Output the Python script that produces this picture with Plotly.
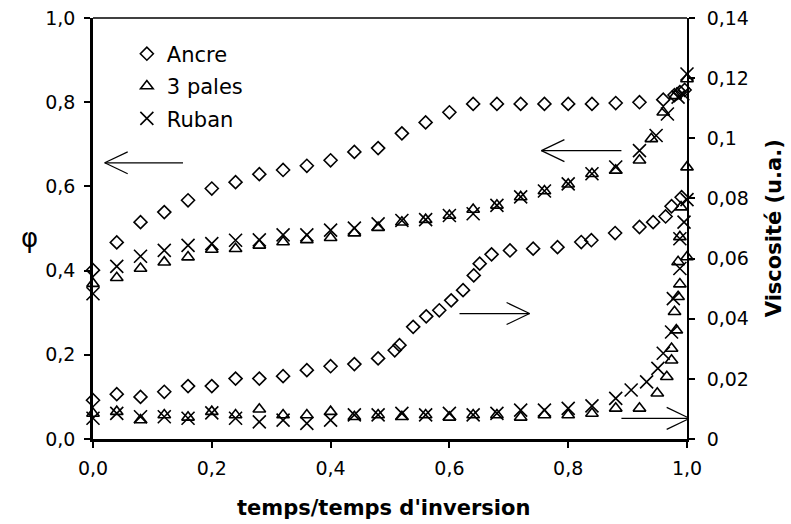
import plotly.graph_objects as go

# ---------------- data ----------------
x_tick_vals = [0, 0.2, 0.4, 0.6, 0.8, 1.0]
x_tick_text = ["0,0", "0,2", "0,4", "0,6", "0,8", "1,0"]
y_tick_vals = [0, 0.2, 0.4, 0.6, 0.8, 1.0]
y_tick_text = ["0,0", "0,2", "0,4", "0,6", "0,8", "1,0"]
y2_tick_vals = [0, 0.02, 0.04, 0.06, 0.08, 0.10, 0.12, 0.14]
y2_tick_text = ["0", "0,02", "0,04", "0,06", "0,08", "0,1", "0,12", "0,14"]

series_names = ["Ancre", "3 pales", "Ruban"]

# phi (left axis)
ancre_phi_x = [0, 0.04, 0.08, 0.12, 0.16, 0.20, 0.24, 0.28, 0.32, 0.36, 0.40, 0.44, 0.48,
               0.52, 0.56, 0.60, 0.64, 0.68, 0.72, 0.76, 0.80, 0.84, 0.88, 0.92, 0.96,
               0.979, 0.988, 0.996]
ancre_phi_y = [0.401, 0.467, 0.515, 0.539, 0.567, 0.595, 0.610, 0.629, 0.639, 0.649, 0.662, 0.682, 0.691,
               0.726, 0.752, 0.776, 0.796, 0.796, 0.796, 0.796, 0.796, 0.796, 0.798, 0.800, 0.806,
               0.817, 0.824, 0.829]

pales_phi_x = [0, 0.04, 0.08, 0.12, 0.16, 0.20, 0.24, 0.28, 0.32, 0.36, 0.40, 0.44, 0.48,
               0.52, 0.56, 0.60, 0.64, 0.68, 0.72, 0.76, 0.80, 0.84, 0.88, 0.92, 0.94,
               0.96, 0.98, 1.0]
pales_phi_y = [0.369, 0.383, 0.405, 0.420, 0.432, 0.450, 0.452, 0.460, 0.468, 0.473, 0.478, 0.489, 0.502,
               0.515, 0.521, 0.531, 0.545, 0.555, 0.575, 0.589, 0.605, 0.630, 0.638, 0.662, 0.713,
               0.776, 0.815, 0.855]

ruban_phi_x = [0, 0.04, 0.08, 0.12, 0.16, 0.20, 0.24, 0.28, 0.32, 0.36, 0.40, 0.44, 0.48,
               0.52, 0.56, 0.60, 0.64, 0.68, 0.72, 0.76, 0.80, 0.84, 0.88, 0.92, 0.948,
               0.967, 0.985, 0.993, 1.0]
ruban_phi_y = [0.345, 0.410, 0.434, 0.448, 0.460, 0.464, 0.472, 0.473, 0.485, 0.485, 0.496, 0.501, 0.511,
               0.519, 0.521, 0.531, 0.535, 0.555, 0.575, 0.589, 0.606, 0.630, 0.646, 0.685, 0.721,
               0.772, 0.812, 0.820, 0.867]

# viscosity (right axis)
ancre_visc_x = [0, 0.04, 0.08, 0.12, 0.16, 0.20, 0.24, 0.28, 0.32, 0.36, 0.40, 0.44, 0.48,
                0.508, 0.516, 0.539, 0.561, 0.583, 0.603, 0.623, 0.641, 0.651, 0.671, 0.702,
                0.741, 0.782, 0.822, 0.839, 0.879, 0.920, 0.943, 0.964, 0.974, 0.991]
ancre_visc_y = [0.0129, 0.0149, 0.0140, 0.0157, 0.0176, 0.0176, 0.0201, 0.0201, 0.0209, 0.0229, 0.0242, 0.0249, 0.0268,
                0.0295, 0.0312, 0.0373, 0.0408, 0.0428, 0.0461, 0.0495, 0.0544, 0.0583, 0.0614, 0.0627,
                0.0633, 0.0638, 0.0655, 0.0661, 0.0685, 0.0705, 0.0721, 0.0740, 0.0774, 0.0804]

pales_visc_x = [0, 0.04, 0.08, 0.12, 0.16, 0.20, 0.24, 0.28, 0.32, 0.36, 0.40, 0.44, 0.48,
                0.52, 0.56, 0.60, 0.64, 0.68, 0.72, 0.76, 0.80, 0.84, 0.88, 0.92, 0.95,
                0.966, 0.974, 0.974, 0.982, 0.979, 0.985, 0.988, 0.985, 0.988, 0.99, 1.0, 1.0]
pales_visc_y = [0.0085, 0.0091, 0.0063, 0.0080, 0.0072, 0.0091, 0.0080, 0.0099, 0.0080, 0.0080, 0.0091, 0.0074, 0.0080,
                0.0074, 0.0080, 0.0072, 0.0080, 0.0080, 0.0072, 0.0080, 0.0080, 0.0085, 0.0102, 0.0102, 0.0152,
                0.0207, 0.0262, 0.0301, 0.0362, 0.0423, 0.0473, 0.0515, 0.0589, 0.0672, 0.0771, 0.0605, 0.0904]

ruban_visc_x = [0, 0.04, 0.08, 0.12, 0.16, 0.20, 0.24, 0.28, 0.32, 0.36, 0.40, 0.44, 0.48,
                0.52, 0.56, 0.60, 0.64, 0.68, 0.72, 0.76, 0.80, 0.84, 0.88, 0.906, 0.932,
                0.951, 0.96, 0.974, 0.977, 0.988, 0.988, 0.995, 1.0]
ruban_visc_y = [0.0069, 0.0085, 0.0074, 0.0074, 0.0069, 0.0087, 0.0069, 0.0057, 0.0063, 0.0052, 0.0063, 0.0080, 0.0080,
                0.0085, 0.0080, 0.0085, 0.0080, 0.0085, 0.0096, 0.0096, 0.0102, 0.0110, 0.0135, 0.0163, 0.0190,
                0.0235, 0.0285, 0.0356, 0.0467, 0.0567, 0.0666, 0.0721, 0.0796]

# ---------------- styles ----------------
FONT = "DejaVu Sans"
FS = 21
TICK_FS = 19
marker_styles = {
    "Ancre": dict(symbol="diamond-open", size=10, color="black", line=dict(width=1.6, color="black")),
    "3 pales": dict(symbol="triangle-up-open", size=11, color="black", line=dict(width=1.6, color="black")),
    "Ruban": dict(symbol="x-thin-open", size=13, color="black", line=dict(width=1.6, color="black")),
}

fig = go.Figure()
phi_data = {"Ancre": (ancre_phi_x, ancre_phi_y), "3 pales": (pales_phi_x, pales_phi_y), "Ruban": (ruban_phi_x, ruban_phi_y)}
visc_data = {"Ancre": (ancre_visc_x, ancre_visc_y), "3 pales": (pales_visc_x, pales_visc_y), "Ruban": (ruban_visc_x, ruban_visc_y)}

for name in series_names:
    xs, ys = phi_data[name]
    fig.add_trace(go.Scatter(x=xs, y=ys, mode="markers", name=name, legendgroup=name,
                             marker=marker_styles[name], cliponaxis=False, yaxis="y"))
for name in series_names:
    xs, ys = visc_data[name]
    fig.add_trace(go.Scatter(x=xs, y=ys, mode="markers", name=name, legendgroup=name, showlegend=False,
                             marker=marker_styles[name], cliponaxis=False, yaxis="y2"))

# arrows (line + open V head), in data coords of x / left y axis
HX = 23 / 594.0
HY = 11 / 421.7
shapes = []
def arrow(xa, xb, y):
    d = 1 if xb > xa else -1
    shapes.append(dict(type="line", xref="x", yref="y", x0=xa, x1=xb, y0=y, y1=y,
                       line=dict(color="black", width=1.2)))
    for s in (1, -1):
        shapes.append(dict(type="line", xref="x", yref="y", x0=xb - d * HX, y0=y + s * HY, x1=xb, y1=y,
                           line=dict(color="black", width=1.2)))

arrow(0.1515, 0.0197, 0.656)
arrow(0.8896, 0.7549, 0.685)
arrow(0.617, 0.735, 0.298)
arrow(0.8896, 1.0045, 0.049)

# top border
shapes.append(dict(type="line", xref="paper", yref="paper", x0=0, x1=1, y0=1, y1=1,
                   line=dict(color="black", width=1.5)))

fig.update_layout(
    width=791, height=524,
    margin=dict(l=93, r=104, t=18, b=85),
    paper_bgcolor="white", plot_bgcolor="white",
    font=dict(family=FONT, size=TICK_FS, color="black"),
    showlegend=True,
    legend=dict(x=0.057, y=0.963, xanchor="left", yanchor="top", bgcolor="rgba(0,0,0,0)",
                font=dict(family=FONT, size=FS), tracegroupgap=2, itemsizing="trace"),
    xaxis=dict(range=[0, 1], tickvals=x_tick_vals, ticktext=x_tick_text, showgrid=False, zeroline=False,
               showline=True, linecolor="black", linewidth=2.5, ticks="outside", ticklen=6, tickwidth=1.5,
               tickcolor="black", ticklabelstandoff=4, automargin=False, tickfont=dict(size=TICK_FS)),
    yaxis=dict(range=[0, 1], tickvals=y_tick_vals, ticktext=y_tick_text, showgrid=False, zeroline=False,
               showline=True, linecolor="black", linewidth=2.5, ticks="outside", ticklen=6, tickwidth=1.5,
               tickcolor="black", ticklabelstandoff=5, automargin=False, tickfont=dict(size=TICK_FS)),
    yaxis2=dict(range=[0, 0.14], tickvals=y2_tick_vals, ticktext=y2_tick_text, overlaying="y", side="right",
                showgrid=False, zeroline=False, showline=True, linecolor="black", linewidth=1.7,
                ticks="outside", ticklen=6, tickwidth=1.5, tickcolor="black", ticklabelstandoff=8,
                automargin=False, tickfont=dict(size=TICK_FS)),
    shapes=shapes,
    annotations=[
        dict(text="φ", xref="paper", yref="paper", x=-0.1066, y=0.477, showarrow=False,
             xanchor="center", yanchor="middle", font=dict(family=FONT, size=26)),
        dict(text="<b>Viscosité (u.a.)</b>", xref="paper", yref="paper", x=1.146, y=0.50, showarrow=False,
             xanchor="center", yanchor="middle", textangle=-90, font=dict(family=FONT, size=FS)),
        dict(text="<b>temps/temps d'inversion</b>", xref="paper", yref="paper", x=0.489, y=-0.1636,
             xanchor="center", yanchor="middle", showarrow=False, font=dict(family=FONT, size=FS)),
    ],
)

fig.write_html("out.html", config={"displayModeBar": False},
               post_script="document.body.style.margin='0px';")
